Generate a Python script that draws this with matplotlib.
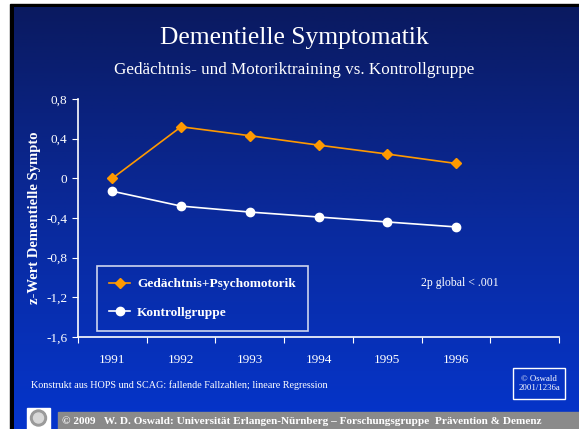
import numpy as np
import matplotlib.pyplot as plt
from matplotlib.patches import Rectangle, Circle
from matplotlib.colors import LinearSegmentedColormap

plt.rcParams['font.family'] = ['Liberation Serif', 'DejaVu Serif']

# data
years = ['1991', '1992', '1993', '1994', '1995', '1996']
training = [0.0, 0.52, 0.43, 0.335, 0.245, 0.15]
kontroll = [-0.13, -0.28, -0.34, -0.39, -0.44, -0.49]
yticks = [0.8, 0.4, 0, -0.4, -0.8, -1.2, -1.6]
ytick_labels = ['0,8', '0,4', '0', '-0,4', '-0,8', '-1,2', '-1,6']

W, H = 579, 429
fig = plt.figure(figsize=(W / 100, H / 100), dpi=100, facecolor='white')

# slide background in pixel coords
bg = fig.add_axes([0, 0, 1, 1])
bg.set_xlim(0, W)
bg.set_ylim(H, 0)
bg.axis('off')
bg.add_patch(Rectangle((10, 4), W, H, color='black', zorder=0))
cmap = LinearSegmentedColormap.from_list('slide', ['#0a1a60', '#0a2a9c', '#0535cc'])
grad = np.linspace(0, 1, 256).reshape(-1, 1)
bg.imshow(grad, cmap=cmap, aspect='auto', extent=(14, W, H, 7), zorder=1)
bg.set_xlim(0, W)
bg.set_ylim(H, 0)

bg.text(294, 38, 'Dementielle Symptomatik', color='white', fontsize=18.4,
        ha='center', va='center', zorder=3)
bg.text(294, 70, 'Gedächtnis- und Motoriktraining vs. Kontrollgruppe', color='white',
        fontsize=12.3, ha='center', va='center', zorder=3)
bg.text(31, 385, 'Konstrukt aus HOPS und SCAG: fallende Fallzahlen; lineare Regression',
        color='white', fontsize=7.3, ha='left', va='center', zorder=3)
bg.add_patch(Rectangle((513, 368), 52, 31, fill=False, edgecolor='white', lw=1, zorder=3))
bg.text(539, 383.5, '© Oswald\n2001/1236a', color='white', fontsize=6.3,
        ha='center', va='center', linespacing=1.3, zorder=3)
bg.text(460, 283, '2p global < .001', color='white', fontsize=8.5,
        ha='center', va='center', zorder=3)

# footer
bg.add_patch(Rectangle((58, 412), W - 58, 20, color='#8a8a8a', zorder=2))
bg.add_patch(Rectangle((27, 408), 23, 21, color='white', zorder=2))
bg.add_patch(Circle((38.5, 418), 8, color='#9a9a9a', zorder=3))
bg.add_patch(Circle((38.5, 418), 5, color='#d8d8d8', zorder=4))
bg.text(62, 421, '© 2009   W. D. Oswald: Universität Erlangen-Nürnberg – Forschungsgruppe  Prävention & Demenz',
        color='white', fontsize=8.1, fontweight='bold', ha='left', va='center', zorder=3)

# chart
ax = fig.add_axes([78 / W, 1 - 337 / H, (559 - 78) / W, (337 - 99) / H])
ax.patch.set_alpha(0)
x = np.arange(len(years))
ax.plot(x, training, color='#ff9900', lw=1.2, marker='D', ms=5.5,
        label='Gedächtnis+Psychomotorik')
ax.plot(x, kontroll, color='white', lw=1.2, marker='o', ms=6,
        label='Kontrollgruppe')

ax.set_xlim(-0.5, 6.5)
ax.set_ylim(-1.6, 0.8)
ax.set_yticks(yticks)
ax.set_yticklabels(ytick_labels)
ax.set_xticks(np.arange(-0.5, 7, 1.0))
ax.set_xticklabels([])
ax.set_xticks(x, minor=True)
ax.set_xticklabels(years, minor=True)
ax.tick_params(axis='x', which='minor', length=0, pad=12, colors='white', labelsize=9.5)
ax.tick_params(axis='x', which='major', length=4, direction='out', colors='white')
ax.tick_params(axis='y', length=4, direction='out', colors='white', labelsize=9.5)
for s in ['top', 'right']:
    ax.spines[s].set_visible(False)
for s in ['left', 'bottom']:
    ax.spines[s].set_color('white')
    ax.spines[s].set_linewidth(1.2)

ax.set_ylabel('z-Wert Dementielle Sympto', color='white', fontsize=10.5,
              fontweight='bold', labelpad=4)

leg = ax.legend(loc='upper left', bbox_to_anchor=((97 - 78) / 481, (337 - 266) / 238),
                borderaxespad=0, frameon=True, fancybox=False, borderpad=0.9,
                labelspacing=1.2, handlelength=1.6, handletextpad=0.5,
                prop={'weight': 'bold', 'size': 9.6})
leg.get_frame().set_facecolor('none')
leg.get_frame().set_edgecolor('white')
leg.get_frame().set_linewidth(1.2)
for t in leg.get_texts():
    t.set_color('white')

fig.savefig('out.png', dpi=100)
